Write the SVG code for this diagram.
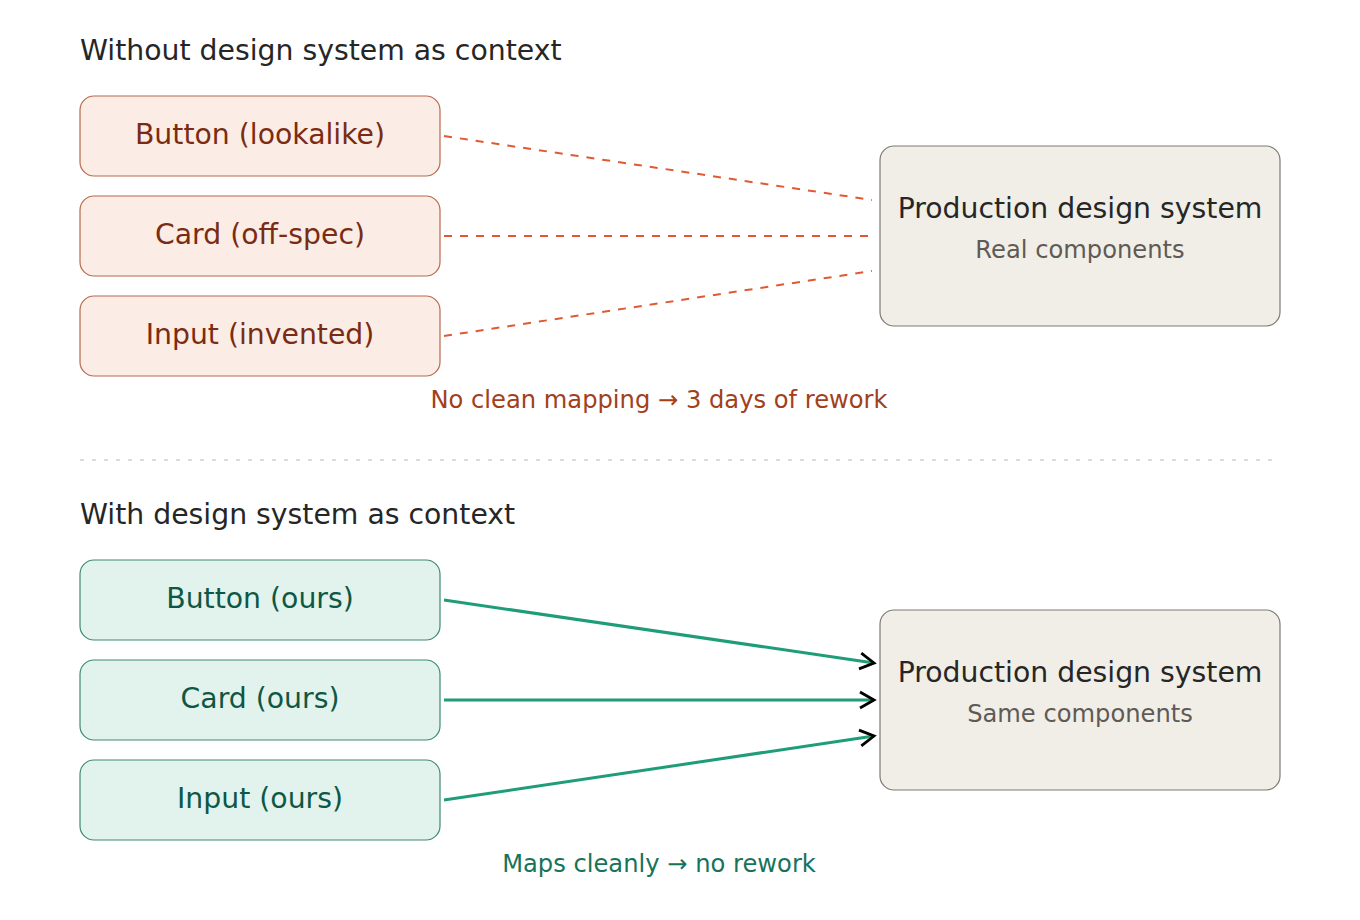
<svg xmlns="http://www.w3.org/2000/svg" width="1360" height="920" viewBox="0 0 1360 920">
  <style>
    text { font-family: "DejaVu Sans", "Noto Sans", sans-serif; }
    .heading { font-size: 28.3px; fill: #262626; }
    .label { font-size: 28.3px; text-anchor: middle; }
    .sub { font-size: 24.2px; text-anchor: middle; fill: #5f5a55; }
    .bad rect { fill: #fbece6; stroke: #b8694c; stroke-width: 1.2; }
    .bad text { fill: #7a2c12; }
    .good rect { fill: #e1f3ec; stroke: #3f8a70; stroke-width: 1.2; }
    .good text { fill: #0e5745; }
    .target rect { fill: #f1eee7; stroke: #7d7a74; stroke-width: 1.2; }
    .target .label { fill: #262626; }
    .dashed { stroke: #df5a34; stroke-width: 2; stroke-dasharray: 8 8; fill: none; }
    .solid { stroke: #1f9c78; stroke-width: 3; fill: none; marker-end: url(#chevron); }
    .note { font-size: 24.2px; text-anchor: middle; }
  </style>
  <defs>
    <marker id="chevron" markerUnits="userSpaceOnUse" markerWidth="24" markerHeight="24" viewBox="0 0 24 24" refX="19" refY="12" orient="auto">
      <path d="M5,4 L19,12 L5,20" fill="none" stroke="#000" stroke-width="2.8"/>
    </marker>
  </defs>

  <!-- Section 1 -->
  <text class="heading" x="80" y="60">Without design system as context</text>

  <g id="btn-lookalike" class="bad">
    <rect x="80" y="96" width="360" height="80" rx="14"/>
    <text class="label" x="260" y="144">Button (lookalike)</text>
  </g>
  <g id="card-offspec" class="bad">
    <rect x="80" y="196" width="360" height="80" rx="14"/>
    <text class="label" x="260" y="244">Card (off-spec)</text>
  </g>
  <g id="input-invented" class="bad">
    <rect x="80" y="296" width="360" height="80" rx="14"/>
    <text class="label" x="260" y="344">Input (invented)</text>
  </g>
  <g id="prod-ds-1" class="target">
    <rect x="880" y="146" width="400" height="180" rx="14"/>
    <text class="label" x="1080" y="218">Production design system</text>
    <text class="sub" x="1080" y="258">Real components</text>
  </g>

  <g id="connectors-1">
    <line class="dashed" x1="444" y1="136" x2="872" y2="200"/>
    <line class="dashed" x1="444" y1="236" x2="872" y2="236"/>
    <line class="dashed" x1="444" y1="336" x2="872" y2="271"/>
  </g>

  <text class="note" x="659" y="408" fill="#a2401c">No clean mapping → 3 days of rework</text>

  <!-- Divider -->
  <line x1="80" y1="460" x2="1280" y2="460" stroke="#cfcfcf" stroke-width="1.5" stroke-dasharray="4 8"/>

  <!-- Section 2 -->
  <text class="heading" x="80" y="524">With design system as context</text>

  <g id="btn-ours" class="good">
    <rect x="80" y="560" width="360" height="80" rx="14"/>
    <text class="label" x="260" y="608">Button (ours)</text>
  </g>
  <g id="card-ours" class="good">
    <rect x="80" y="660" width="360" height="80" rx="14"/>
    <text class="label" x="260" y="708">Card (ours)</text>
  </g>
  <g id="input-ours" class="good">
    <rect x="80" y="760" width="360" height="80" rx="14"/>
    <text class="label" x="260" y="808">Input (ours)</text>
  </g>
  <g id="prod-ds-2" class="target">
    <rect x="880" y="610" width="400" height="180" rx="14"/>
    <text class="label" x="1080" y="682">Production design system</text>
    <text class="sub" x="1080" y="722">Same components</text>
  </g>

  <g id="connectors-2">
    <line class="solid" x1="444" y1="600" x2="874" y2="663"/>
    <line class="solid" x1="444" y1="700" x2="874" y2="700"/>
    <line class="solid" x1="444" y1="800" x2="874" y2="736"/>
  </g>

  <text class="note" x="659" y="872" fill="#17735a">Maps cleanly → no rework</text>
</svg>
